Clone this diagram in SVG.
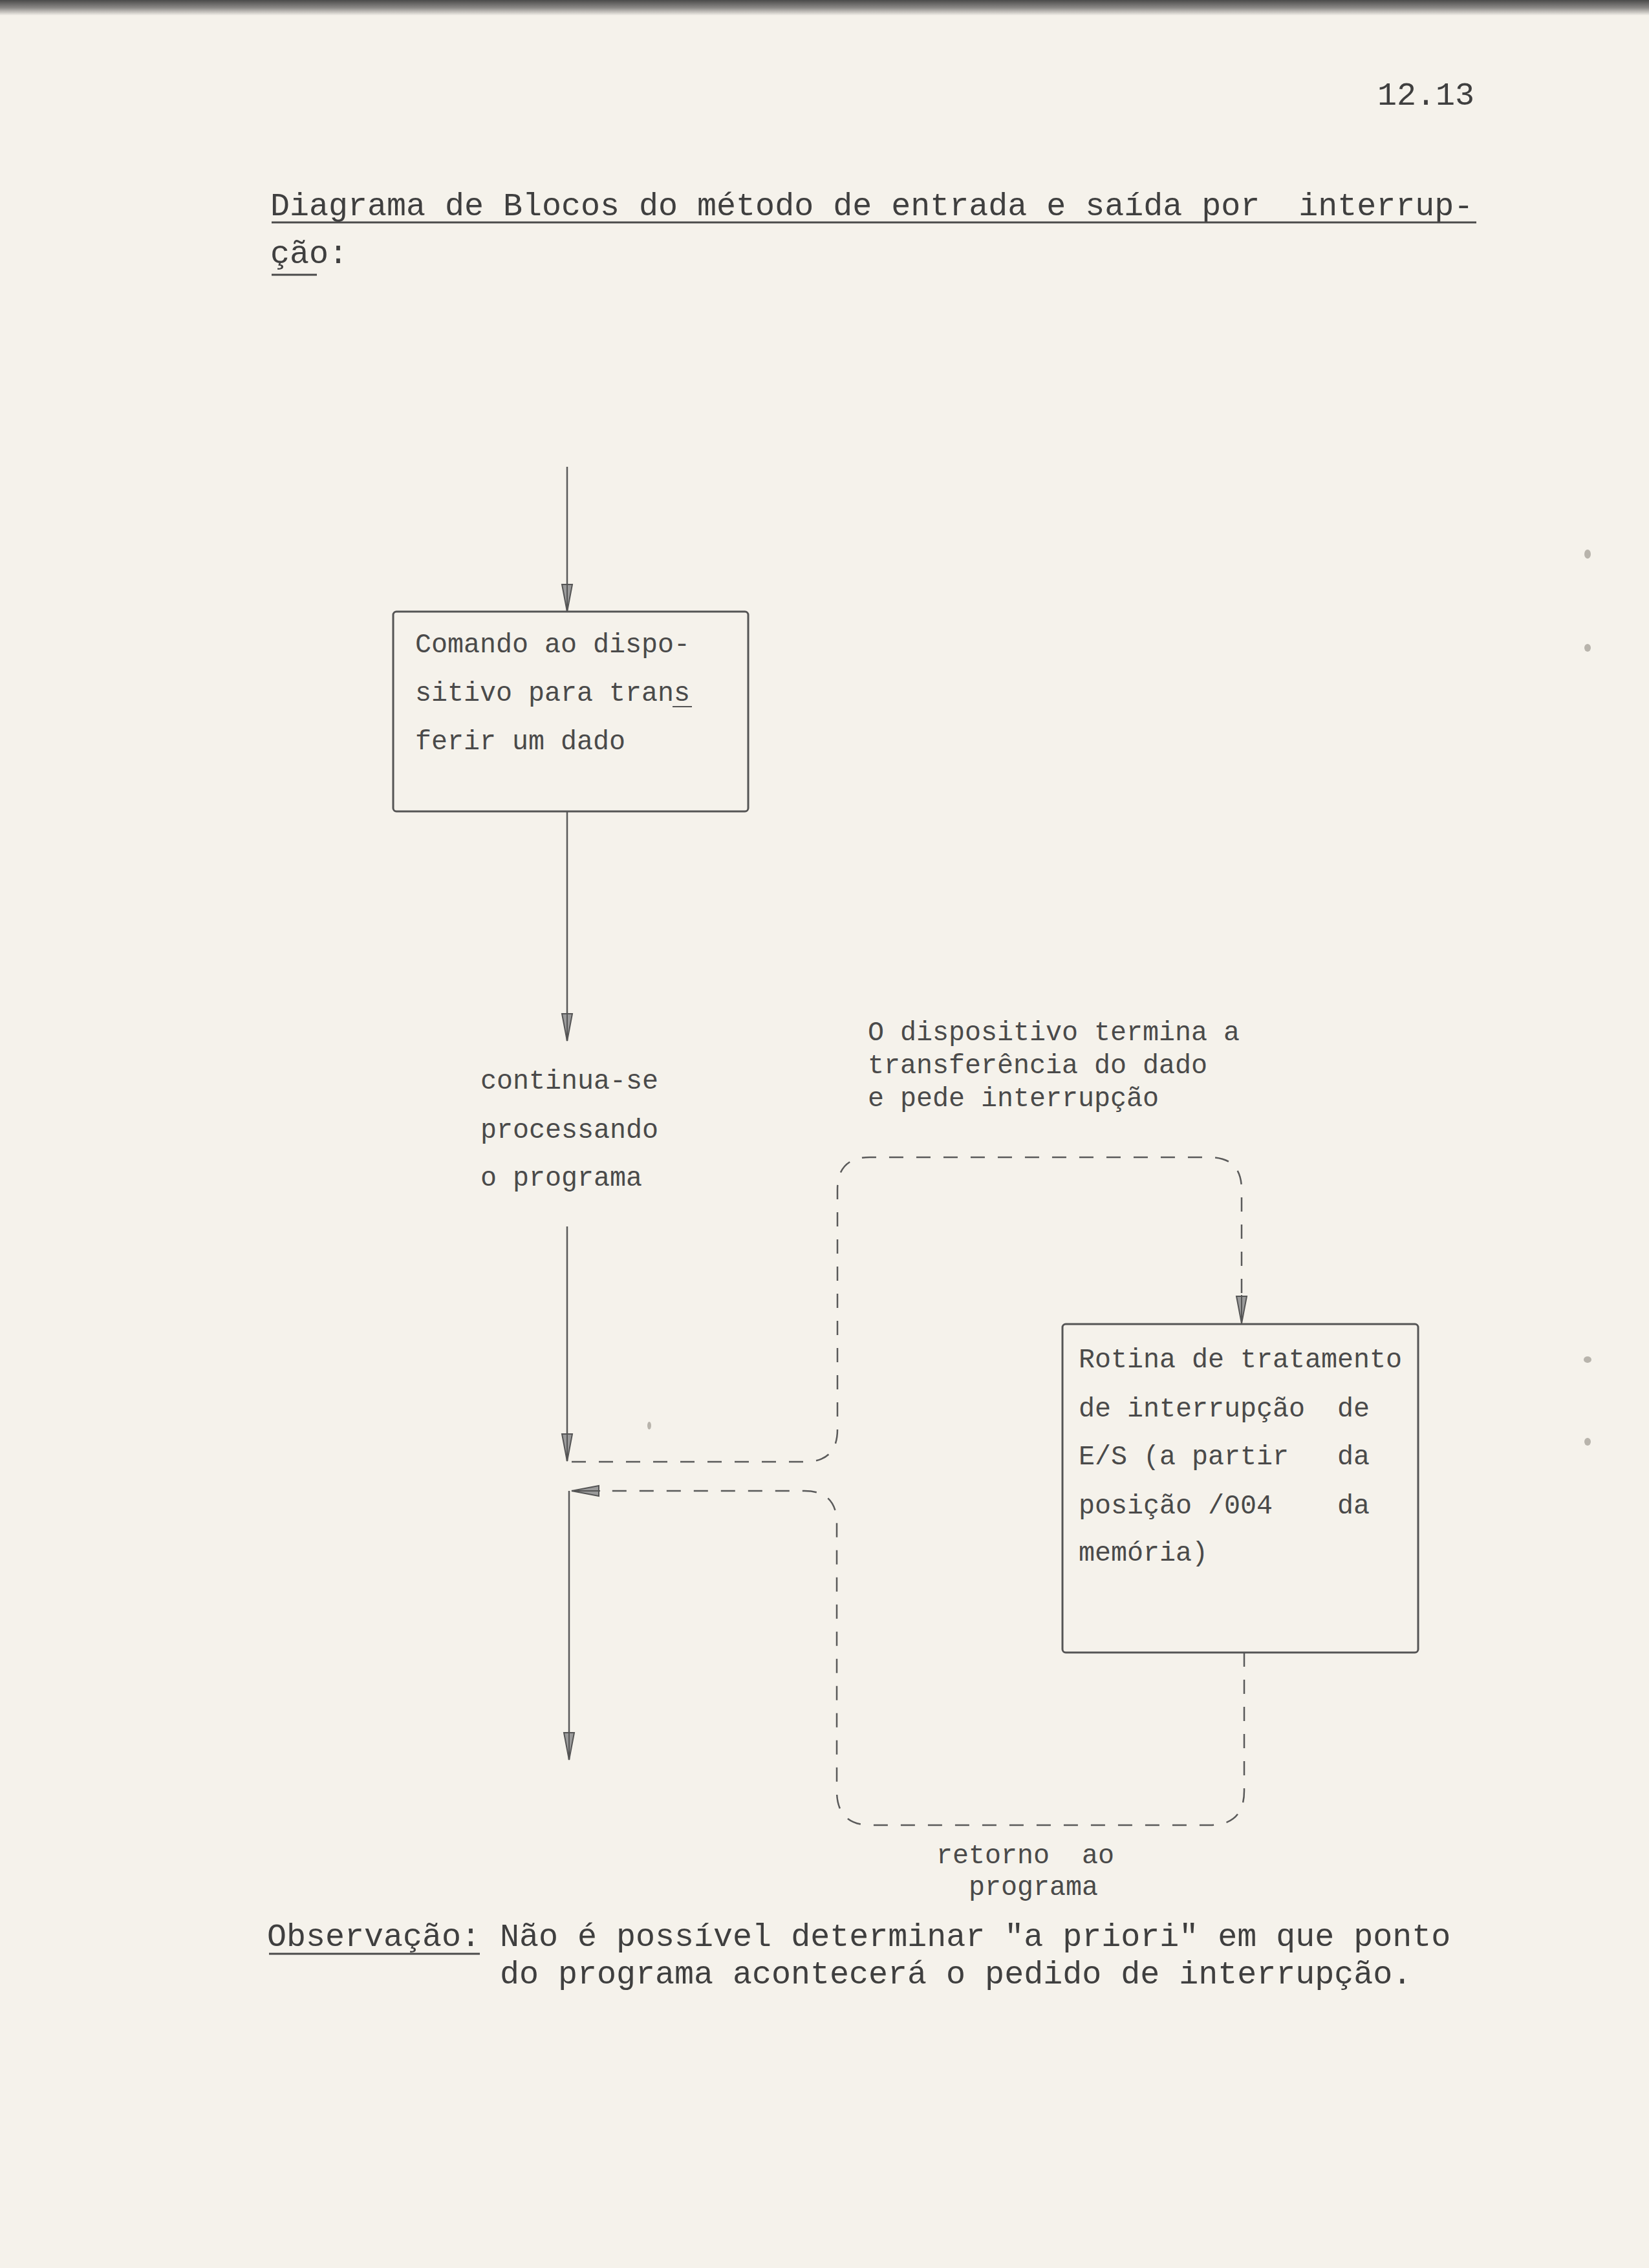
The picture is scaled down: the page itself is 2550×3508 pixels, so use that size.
<svg xmlns="http://www.w3.org/2000/svg" width="2550" height="3508" viewBox="0 0 2550 3508">
<defs>
<style>
.pica{font-family:"Liberation Mono","DejaVu Sans Mono",monospace;font-size:50px;fill:#3f3f3f;white-space:pre}
.elite{font-family:"Liberation Mono","DejaVu Sans Mono",monospace;font-size:41.667px;fill:#4a4a4a;white-space:pre}
.solid{fill:none;stroke:#5a5a5a;stroke-width:2.5}
.dash{fill:none;stroke:#5a5a5a;stroke-width:2.5;stroke-dasharray:22 20}
.box{fill:none;stroke:#555;stroke-width:3}
.ul{stroke:#4a4a4a;stroke-width:3}
</style>
<linearGradient id="band" x1="0" y1="0" x2="0" y2="1">
<stop offset="0" stop-color="#4a4a4a"/>
<stop offset="0.5" stop-color="#8a8886"/>
<stop offset="1" stop-color="#f5f2eb"/>
</linearGradient>
<marker id="arrow" markerUnits="userSpaceOnUse" markerWidth="46" markerHeight="22" viewBox="0 0 46 22" refX="44" refY="11" orient="auto">
<path d="M2,3 L44,11 L2,19 Z" fill="#9a9a9a" stroke="#555" stroke-width="2"/>
<path d="M0,11 H44" stroke="#555" stroke-width="2"/>
</marker>
</defs>
<rect x="0" y="0" width="2550" height="3508" fill="#f5f2eb"/>
<rect x="0" y="0" width="2550" height="24" fill="url(#band)"/>
<g id="scan-marks" fill="#b8b4ac">
<ellipse cx="2455" cy="857" rx="5" ry="7"/>
<ellipse cx="2455" cy="1002" rx="5" ry="6"/>
<ellipse cx="2455" cy="2103" rx="6" ry="5"/>
<ellipse cx="2455" cy="2230" rx="5" ry="6"/>
<ellipse cx="1004" cy="2205" rx="3" ry="6"/>
</g>
<g id="page-number"><text class="pica" x="2130" y="162">12.13</text></g>
<g id="title">
<text class="pica" x="418" y="333">Diagrama de Blocos do método de entrada e saída por  interrup-</text>
<line class="ul" x1="420" y1="344" x2="2283" y2="344"/>
<text class="pica" x="418" y="407">ção:</text>
<line class="ul" x1="420" y1="425" x2="490" y2="425"/>
</g>
<g id="connectors">
<path class="solid" d="M877,722 V946" marker-end="url(#arrow)"/>
<path class="solid" d="M877,1255 V1610" marker-end="url(#arrow)"/>
<path class="solid" d="M877,1897 V2260" marker-end="url(#arrow)"/>
<path class="solid" d="M880,2306 V2722" marker-end="url(#arrow)"/>
<path class="dash" d="M884,2261 H1245 Q1295,2261 1295,2211 V1840 Q1295,1790 1345,1790 H1870 Q1920,1790 1920,1840 V2047" marker-end="url(#arrow)"/>
<path class="dash" d="M1924,2556 V2770 Q1924,2823 1871,2823 H1347 Q1294,2823 1294,2770 V2356 Q1294,2306 1244,2306 H884" marker-end="url(#arrow)"/>
</g>
<g id="node-comando">
<rect class="box" x="608" y="946" width="549" height="309" rx="5"/>
<text class="elite" x="642" y="1009">Comando ao dispo-</text>
<text class="elite" x="642" y="1084">sitivo para trans</text>
<line x1="1040" y1="1093" x2="1070" y2="1093" stroke="#555" stroke-width="2"/>
<text class="elite" x="642" y="1159">ferir um dado</text>
</g>
<g id="label-continua">
<text class="elite" x="743" y="1684">continua-se</text>
<text class="elite" x="743" y="1760">processando</text>
<text class="elite" x="743" y="1834">o programa</text>
</g>
<g id="label-interrupcao">
<text class="elite" x="1342" y="1609">O dispositivo termina a</text>
<text class="elite" x="1342" y="1660">transferência do dado</text>
<text class="elite" x="1342" y="1711">e pede interrupção</text>
</g>
<g id="node-rotina">
<rect class="box" x="1643" y="2048" width="550" height="508" rx="5"/>
<text class="elite" x="1668" y="2115">Rotina de tratamento</text>
<text class="elite" x="1668" y="2191">de interrupção  de</text>
<text class="elite" x="1668" y="2265">E/S (a partir   da</text>
<text class="elite" x="1668" y="2341">posição /004    da</text>
<text class="elite" x="1668" y="2414">memória)</text>
</g>
<g id="label-retorno">
<text class="elite" x="1448" y="2882">retorno  ao</text>
<text class="elite" x="1498" y="2931">programa</text>
</g>
<g id="observacao">
<text class="pica" x="413" y="3010">Observação: Não é possível determinar "a priori" em que ponto</text>
<line class="ul" x1="416" y1="3022" x2="742" y2="3022"/>
<text class="pica" x="773" y="3068">do programa acontecerá o pedido de interrupção.</text>
</g>
</svg>
